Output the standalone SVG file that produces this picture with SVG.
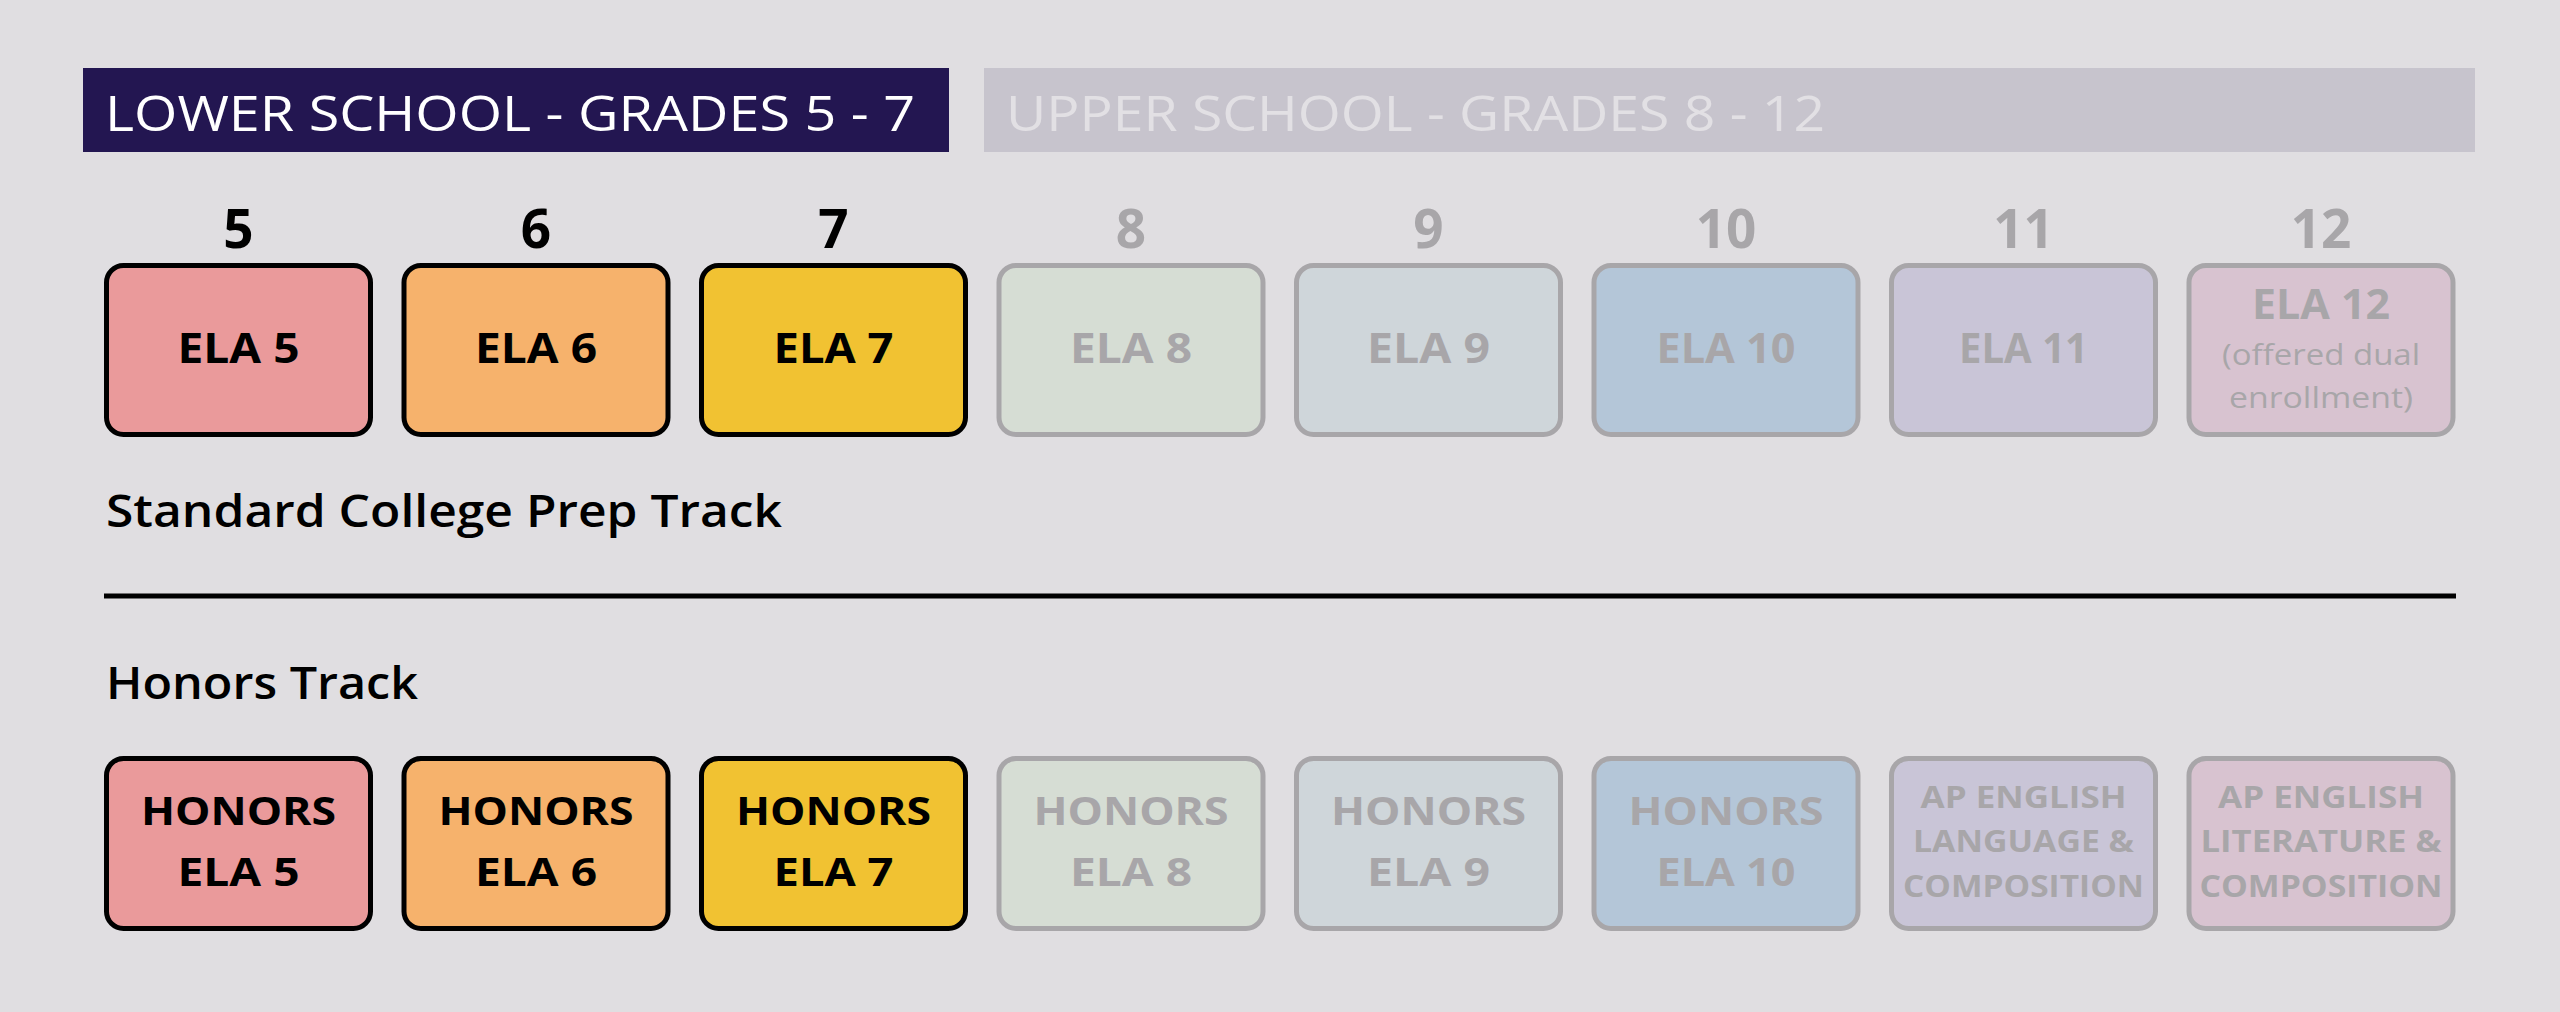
<svg xmlns="http://www.w3.org/2000/svg" width="2560" height="1012" viewBox="0 0 2560 1012">
<style>
.bg{fill:#e0dee1}
.box{stroke-width:5}
.on{stroke:#000000}
.off{stroke:#a8a6a9}
.t{font-family:"Open Sans","Liberation Sans",sans-serif;text-anchor:middle}
.b{font-weight:700}
.dk{fill:#000000}
.gy{fill:#a8a6a9}
.hdr{font-family:"Open Sans","Liberation Sans",sans-serif;font-weight:500;font-size:50px}
.num{font-size:53px}
.ela{font-size:41px}
.hon{font-size:40px}
.ap{font-size:30px}
.sm{font-size:29px;font-weight:400}
.track{font-family:"Open Sans","Liberation Sans",sans-serif;font-weight:600;font-size:45px;fill:#000000}
</style>
<rect class="bg" x="0" y="0" width="2560" height="1012"/>

<g id="header-lower">
<rect x="83" y="68" width="866" height="84" fill="#231651"/>
<text class="hdr" x="105" y="131" fill="#ffffff" textLength="810" lengthAdjust="spacingAndGlyphs">LOWER SCHOOL - GRADES 5 - 7</text>
</g>
<g id="header-upper">
<rect x="984" y="68" width="1491" height="84" fill="#c7c4cd"/>
<text class="hdr" x="1006" y="131" fill="#e2e0e4" textLength="819" lengthAdjust="spacingAndGlyphs">UPPER SCHOOL - GRADES 8 - 12</text>
</g>

<g id="grade-numbers">
<text class="t b num dk" x="238.5" y="248">5</text>
<text class="t b num dk" x="536" y="248">6</text>
<text class="t b num dk" x="833.5" y="248">7</text>
<text class="t b num gy" x="1131" y="248">8</text>
<text class="t b num gy" x="1428.5" y="248">9</text>
<text class="t b num gy" x="1726" y="248">10</text>
<text class="t b num gy" x="2023.5" y="248">11</text>
<text class="t b num gy" x="2321" y="248">12</text>
</g>

<g id="ela5"><rect class="box on" x="106.5" y="265.5" width="264" height="169" rx="17" fill="#ea9a9b"/><text class="t b ela dk" x="238.5" y="363" textLength="122" lengthAdjust="spacingAndGlyphs">ELA 5</text></g>
<g id="ela6"><rect class="box on" x="404" y="265.5" width="264" height="169" rx="17" fill="#f6b26c"/><text class="t b ela dk" x="536" y="363" textLength="122" lengthAdjust="spacingAndGlyphs">ELA 6</text></g>
<g id="ela7"><rect class="box on" x="701.5" y="265.5" width="264" height="169" rx="17" fill="#f1c232"/><text class="t b ela dk" x="833.5" y="363" textLength="120" lengthAdjust="spacingAndGlyphs">ELA 7</text></g>
<g id="ela8"><rect class="box off" x="999" y="265.5" width="264" height="169" rx="17" fill="#d6ddd4"/><text class="t b ela gy" x="1131" y="363" textLength="122" lengthAdjust="spacingAndGlyphs">ELA 8</text></g>
<g id="ela9"><rect class="box off" x="1296.5" y="265.5" width="264" height="169" rx="17" fill="#cfd6da"/><text class="t b ela gy" x="1428.5" y="363" textLength="123" lengthAdjust="spacingAndGlyphs">ELA 9</text></g>
<g id="ela10"><rect class="box off" x="1594" y="265.5" width="264" height="169" rx="17" fill="#b4c6d8"/><text class="t b ela gy" x="1726" y="363" textLength="139" lengthAdjust="spacingAndGlyphs">ELA 10</text></g>
<g id="ela11"><rect class="box off" x="1891.5" y="265.5" width="264" height="169" rx="17" fill="#c9c5d7"/><text class="t b ela gy" x="2023.5" y="363" textLength="129" lengthAdjust="spacingAndGlyphs">ELA 11</text></g>
<g id="ela12"><rect class="box off" x="2189" y="265.5" width="264" height="169" rx="17" fill="#d8c3d0"/>
<text class="t b ela gy" x="2321" y="319" textLength="138" lengthAdjust="spacingAndGlyphs">ELA 12</text>
<text class="t sm gy" x="2321" y="365" textLength="198" lengthAdjust="spacingAndGlyphs">(offered dual</text>
<text class="t sm gy" x="2321" y="408" textLength="184" lengthAdjust="spacingAndGlyphs">enrollment)</text>
</g>

<g id="label-standard"><text class="track" x="106" y="527" textLength="676" lengthAdjust="spacingAndGlyphs">Standard College Prep Track</text></g>
<g id="divider"><line x1="104" y1="596" x2="2456" y2="596" stroke="#000000" stroke-width="5"/></g>
<g id="label-honors"><text class="track" x="106" y="699" textLength="312" lengthAdjust="spacingAndGlyphs">Honors Track</text></g>

<g id="honors5"><rect class="box on" x="106.5" y="758.5" width="264" height="170" rx="17" fill="#ea9a9b"/>
<text class="t b hon dk" x="238.5" y="825" textLength="195" lengthAdjust="spacingAndGlyphs">HONORS</text>
<text class="t b hon dk" x="238.5" y="886" textLength="122" lengthAdjust="spacingAndGlyphs">ELA 5</text></g>
<g id="honors6"><rect class="box on" x="404" y="758.5" width="264" height="170" rx="17" fill="#f6b26c"/>
<text class="t b hon dk" x="536" y="825" textLength="195" lengthAdjust="spacingAndGlyphs">HONORS</text>
<text class="t b hon dk" x="536" y="886" textLength="122" lengthAdjust="spacingAndGlyphs">ELA 6</text></g>
<g id="honors7"><rect class="box on" x="701.5" y="758.5" width="264" height="170" rx="17" fill="#f1c232"/>
<text class="t b hon dk" x="833.5" y="825" textLength="195" lengthAdjust="spacingAndGlyphs">HONORS</text>
<text class="t b hon dk" x="833.5" y="886" textLength="120" lengthAdjust="spacingAndGlyphs">ELA 7</text></g>
<g id="honors8"><rect class="box off" x="999" y="758.5" width="264" height="170" rx="17" fill="#d6ddd4"/>
<text class="t b hon gy" x="1131" y="825" textLength="195" lengthAdjust="spacingAndGlyphs">HONORS</text>
<text class="t b hon gy" x="1131" y="886" textLength="122" lengthAdjust="spacingAndGlyphs">ELA 8</text></g>
<g id="honors9"><rect class="box off" x="1296.5" y="758.5" width="264" height="170" rx="17" fill="#cfd6da"/>
<text class="t b hon gy" x="1428.5" y="825" textLength="195" lengthAdjust="spacingAndGlyphs">HONORS</text>
<text class="t b hon gy" x="1428.5" y="886" textLength="123" lengthAdjust="spacingAndGlyphs">ELA 9</text></g>
<g id="honors10"><rect class="box off" x="1594" y="758.5" width="264" height="170" rx="17" fill="#b4c6d8"/>
<text class="t b hon gy" x="1726" y="825" textLength="195" lengthAdjust="spacingAndGlyphs">HONORS</text>
<text class="t b hon gy" x="1726" y="886" textLength="139" lengthAdjust="spacingAndGlyphs">ELA 10</text></g>
<g id="ap-language"><rect class="box off" x="1891.5" y="758.5" width="264" height="170" rx="17" fill="#c9c5d7"/>
<text class="t b ap gy" x="2023.5" y="808" textLength="206" lengthAdjust="spacingAndGlyphs">AP ENGLISH</text>
<text class="t b ap gy" x="2023.5" y="852" textLength="221" lengthAdjust="spacingAndGlyphs">LANGUAGE &amp;</text>
<text class="t b ap gy" x="2023.5" y="897" textLength="241" lengthAdjust="spacingAndGlyphs">COMPOSITION</text></g>
<g id="ap-literature"><rect class="box off" x="2189" y="758.5" width="264" height="170" rx="17" fill="#d8c3d0"/>
<text class="t b ap gy" x="2321" y="808" textLength="206" lengthAdjust="spacingAndGlyphs">AP ENGLISH</text>
<text class="t b ap gy" x="2321" y="852" textLength="241" lengthAdjust="spacingAndGlyphs">LITERATURE &amp;</text>
<text class="t b ap gy" x="2321" y="897" textLength="243" lengthAdjust="spacingAndGlyphs">COMPOSITION</text></g>
</svg>
